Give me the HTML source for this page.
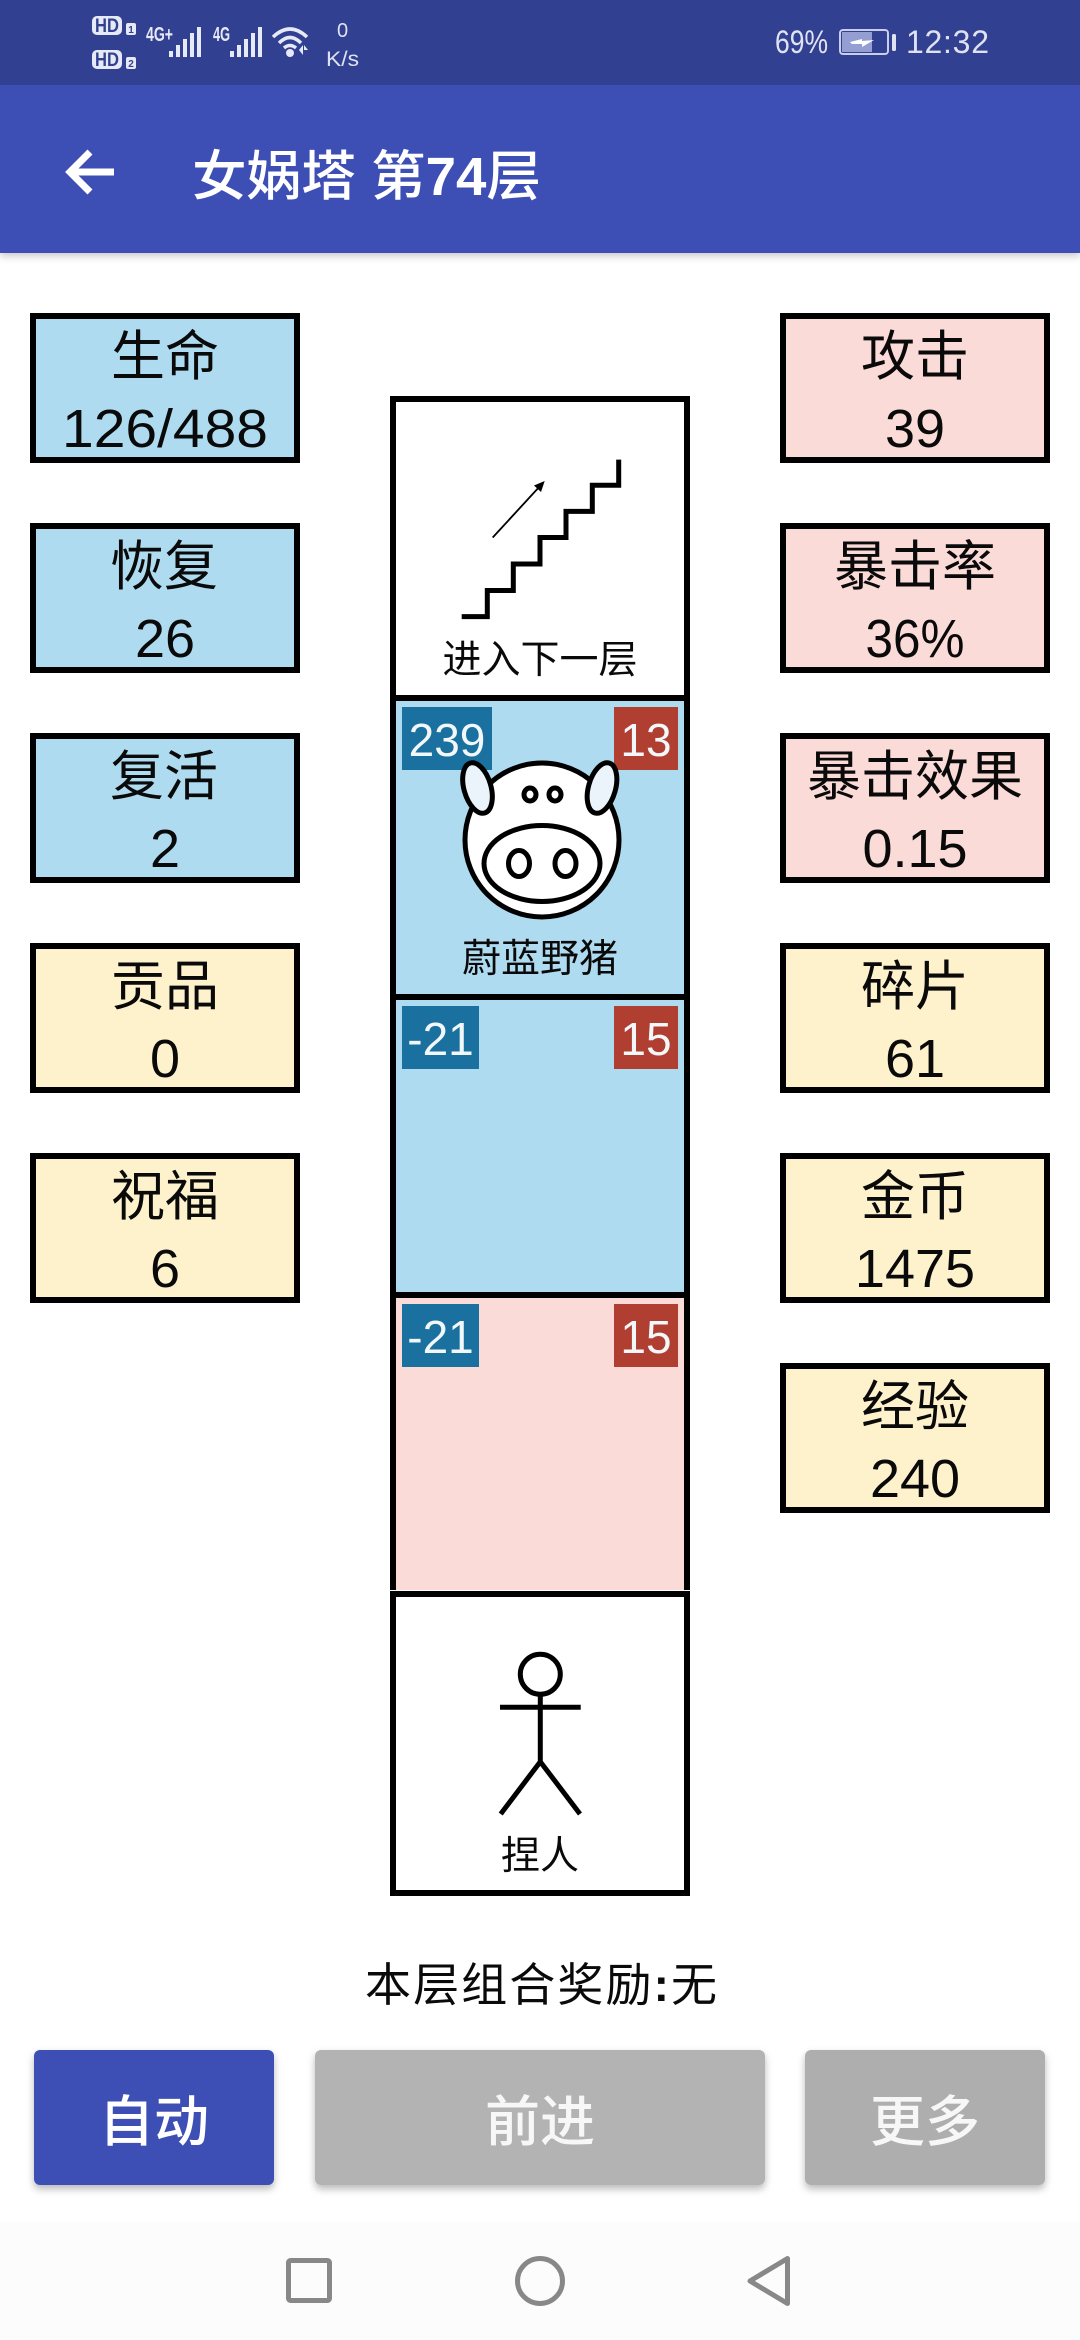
<!DOCTYPE html>
<html lang="zh">
<head>
<meta charset="utf-8">
<title>女娲塔 第74层</title>
<style>
html,body{margin:0;padding:0;background:#fff;width:1080px;height:2340px;overflow:hidden}
svg{display:block}
text{font-family:"Liberation Sans","Noto Sans CJK SC",sans-serif}
.s{font-size:54px;text-anchor:middle;fill:#0a0a0a}
.b{font-size:46px;text-anchor:middle;fill:#f2f7fa}
.c{font-size:39px;text-anchor:middle;fill:#0a0a0a}
.h{font-size:55px;text-anchor:middle;fill:#fff;font-weight:500}
.box{stroke:#000;stroke-width:6}
</style>
</head>
<body>
<svg width="1080" height="2340" viewBox="0 0 1080 2340" xmlns="http://www.w3.org/2000/svg">
<defs>
<filter id="sh" x="-10%" y="-10%" width="120%" height="130%"><feDropShadow dx="0" dy="4" stdDeviation="4" flood-color="#000" flood-opacity=".28"/></filter>
<filter id="tb" x="-2%" y="-5%" width="104%" height="120%"><feDropShadow dx="0" dy="3" stdDeviation="4" flood-color="#000" flood-opacity=".22"/></filter>
</defs>
<rect width="1080" height="2340" fill="#fff"/>

<!-- toolbar -->
<rect y="85" width="1080" height="168" fill="#3e50b4" filter="url(#tb)"/>
<rect width="1080" height="85" fill="#324091"/>

<!-- status bar left -->
<rect x="92" y="16" width="30" height="19" rx="5" fill="#e6e9f6"/>
<text x="107" y="32" font-size="19" font-weight="700" text-anchor="middle" fill="#324091" textLength="24" lengthAdjust="spacingAndGlyphs">HD</text>
<rect x="92" y="50" width="30" height="19" rx="5" fill="#e6e9f6"/>
<text x="107" y="66" font-size="19" font-weight="700" text-anchor="middle" fill="#324091" textLength="24" lengthAdjust="spacingAndGlyphs">HD</text>
<rect x="126" y="23" width="10" height="12" rx="2" fill="#e6e9f6"/>
<text x="131" y="33" font-size="10" font-weight="700" text-anchor="middle" fill="#324091">1</text>
<rect x="126" y="57" width="10" height="12" rx="2" fill="#e6e9f6"/>
<text x="131" y="67" font-size="10" font-weight="700" text-anchor="middle" fill="#324091">2</text>
<text x="146" y="41" font-size="20" font-weight="700" fill="#e6e9f6" textLength="27" lengthAdjust="spacingAndGlyphs">4G+</text>
<text x="213" y="41" font-size="20" font-weight="700" fill="#e6e9f6" textLength="17" lengthAdjust="spacingAndGlyphs">4G</text>
<g fill="#e6e9f6">
<rect x="169" y="51" width="4" height="6"/><rect x="176" y="45" width="4" height="12"/><rect x="183" y="39" width="4" height="18"/><rect x="190" y="33" width="4" height="24"/><rect x="197" y="27" width="4" height="30"/>
<rect x="230" y="51" width="4" height="6"/><rect x="237" y="45" width="4" height="12"/><rect x="244" y="39" width="4" height="18"/><rect x="251" y="33" width="4" height="24"/><rect x="258" y="27" width="4" height="30"/>
<circle cx="290" cy="53" r="4"/>
<path d="M299 50l4-5v10zM304 45l4 5h-4z"/>
</g>
<g fill="none" stroke="#e6e9f6" stroke-width="3.500">
<path d="M273 37Q290 21 307 37"/>
<path d="M279 43Q290 32 301 43"/>
<path d="M284 48Q290 43 296 48"/>
</g>
<text x="342.500" y="37" font-size="20" text-anchor="middle" fill="#dfe2f2">0</text>
<text x="342.500" y="66" font-size="21" text-anchor="middle" fill="#dfe2f2" textLength="33" lengthAdjust="spacingAndGlyphs">K/s</text>

<!-- status bar right -->
<text x="775" y="53" font-size="32" fill="#dfe2f2" textLength="53" lengthAdjust="spacingAndGlyphs">69%</text>
<rect x="840" y="30" width="48" height="24" rx="3" fill="none" stroke="#c9cfe9" stroke-width="2"/>
<rect x="842" y="32" width="30" height="20" fill="#959ed2"/>
<rect x="892" y="34" width="4" height="17" rx="1.500" fill="#dfe2f2"/>
<path d="M850 42l12-3 0 2 12-1-12 7 0-3-10 0z" fill="#fff"/>
<text x="906" y="53" font-size="32" fill="#dfe2f2" textLength="83" lengthAdjust="spacing">12:32</text>

<!-- toolbar content -->
<path d="M114 172H73M90 152L70 172L90 192" fill="none" stroke="#fff" stroke-width="7"/>
<text x="192" y="195" font-size="54" font-weight="500" fill="#fff" textLength="349" lengthAdjust="spacingAndGlyphs">女娲塔 第<tspan font-weight="700">74</tspan>层</text>

<!-- stats -->
<g class="box">
<rect x="33" y="316" width="264" height="144" fill="#afdbf0"/>
<rect x="33" y="526" width="264" height="144" fill="#afdbf0"/>
<rect x="33" y="736" width="264" height="144" fill="#afdbf0"/>
<rect x="33" y="946" width="264" height="144" fill="#fef2cd"/>
<rect x="33" y="1156" width="264" height="144" fill="#fef2cd"/>
<rect x="783" y="316" width="264" height="144" fill="#fadbd8"/>
<rect x="783" y="526" width="264" height="144" fill="#fadbd8"/>
<rect x="783" y="736" width="264" height="144" fill="#fadbd8"/>
<rect x="783" y="946" width="264" height="144" fill="#fef2cd"/>
<rect x="783" y="1156" width="264" height="144" fill="#fef2cd"/>
<rect x="783" y="1366" width="264" height="144" fill="#fef2cd"/>
</g>
<text class="s" x="165" y="375">生命</text><text class="s" x="165" y="447" textLength="206" lengthAdjust="spacingAndGlyphs">126/488</text>
<text class="s" x="164" y="585">恢复</text><text class="s" x="165" y="657">26</text>
<text class="s" x="164" y="795">复活</text><text class="s" x="165" y="867">2</text>
<text class="s" x="165" y="1005">贡品</text><text class="s" x="165" y="1077">0</text>
<text class="s" x="165" y="1215">祝福</text><text class="s" x="165" y="1287">6</text>
<text class="s" x="915" y="375">攻击</text><text class="s" x="915" y="447">39</text>
<text class="s" x="915" y="585">暴击率</text><text class="s" x="915" y="657" textLength="99" lengthAdjust="spacingAndGlyphs">36%</text>
<text class="s" x="915" y="795">暴击效果</text><text class="s" x="915" y="867">0.15</text>
<text class="s" x="915" y="1005">碎片</text><text class="s" x="915" y="1077">61</text>
<text class="s" x="915" y="1215">金币</text><text class="s" x="915" y="1287">1475</text>
<text class="s" x="915" y="1425">经验</text><text class="s" x="915" y="1497">240</text>

<!-- tower -->
<rect x="390" y="396" width="300" height="1194" fill="#000"/>
<rect x="396" y="402" width="288" height="293" fill="#fff"/>
<rect x="396" y="701" width="288" height="293" fill="#afdbf0"/>
<rect x="396" y="1000" width="288" height="292" fill="#afdbf0"/>
<rect x="396" y="1298" width="288" height="292" fill="#fadbd8"/>
<rect x="390" y="1591" width="300" height="305" fill="#000"/>
<rect x="396" y="1597" width="288" height="293" fill="#fff"/>

<!-- stairs -->
<path d="M461.700 616.600H487.300V590.500H513.300V564H540V537.500H566V511.400H592.300V485.300H618.700V459.600" fill="none" stroke="#000" stroke-width="5"/>
<path d="M492.700 537.500L541 485" fill="none" stroke="#000" stroke-width="1.800"/>
<path d="M544.700 481L541 492L534 485.500z" fill="#000"/>
<text class="c" x="540" y="673">进入下一层</text>

<!-- badges -->
<rect x="402" y="707" width="90" height="63" fill="#1a71a0"/>
<text class="b" x="447" y="756">239</text>
<rect x="614" y="707" width="64" height="63" fill="#b03f31"/>
<text class="b" x="646" y="756">13</text>
<rect x="402" y="1006" width="77" height="63" fill="#1a71a0"/>
<text class="b" x="440.500" y="1055">-21</text>
<rect x="614" y="1006" width="64" height="63" fill="#b03f31"/>
<text class="b" x="646" y="1055">15</text>
<rect x="402" y="1304" width="77" height="63" fill="#1a71a0"/>
<text class="b" x="440.500" y="1353">-21</text>
<rect x="614" y="1304" width="64" height="63" fill="#b03f31"/>
<text class="b" x="646" y="1353">15</text>

<!-- pig -->
<g stroke="#000" stroke-width="5" fill="#fff">
<ellipse cx="542" cy="840" rx="77" ry="77"/>
<ellipse cx="477.500" cy="788" rx="13.500" ry="26" transform="rotate(-16 477.500 788)" fill="#eaf4fa"/>
<ellipse cx="602" cy="788" rx="13.500" ry="26" transform="rotate(16 602 788)" fill="#eaf4fa"/>
<ellipse cx="530" cy="794.500" rx="6" ry="6.500"/>
<ellipse cx="555" cy="794.500" rx="6" ry="6.500"/>
<ellipse cx="542" cy="863.500" rx="58" ry="38"/>
<ellipse cx="519" cy="863.500" rx="10.500" ry="13"/>
<ellipse cx="565.500" cy="863.500" rx="10.500" ry="13"/>
</g>
<text class="c" x="540" y="972">蔚蓝野猪</text>

<!-- person -->
<g stroke="#000" stroke-width="5" fill="none">
<circle cx="540.300" cy="1674.300" r="20"/>
<path d="M540.300 1695V1762M500 1707.300H580.700M540.300 1761.700L500.700 1814M540.300 1761.700L580 1814"/>
</g>
<text class="c" x="540" y="1869">捏人</text>

<!-- reward line -->
<text x="365" y="2001" font-size="46" fill="#0a0a0a" textLength="352" lengthAdjust="spacing">本层组合奖励<tspan font-weight="700">:</tspan>无</text>

<!-- buttons -->
<rect x="34" y="2050" width="240" height="135" rx="6" fill="#3e50b4" filter="url(#sh)"/>
<rect x="315" y="2050" width="450" height="135" rx="6" fill="#b3b3b3" filter="url(#sh)"/>
<rect x="805" y="2050" width="240" height="135" rx="6" fill="#aeaeae" filter="url(#sh)"/>
<text class="h" x="154" y="2141">自动</text>
<text class="h" x="540" y="2141" style="fill:#f7f7f7">前进</text>
<text class="h" x="925" y="2141" style="fill:#f7f7f7">更多</text>

<!-- nav bar -->
<rect y="2222" width="1080" height="118" fill="#fcfcfc"/>
<rect x="288.500" y="2260.500" width="41" height="40" rx="2" fill="none" stroke="#888" stroke-width="5"/>
<circle cx="540" cy="2281" r="22.500" fill="none" stroke="#888" stroke-width="5"/>
<path d="M787.500 2258.500V2303.500L750 2281z" fill="none" stroke="#888" stroke-width="5" stroke-linejoin="round"/>
</svg>
</body>
</html>
